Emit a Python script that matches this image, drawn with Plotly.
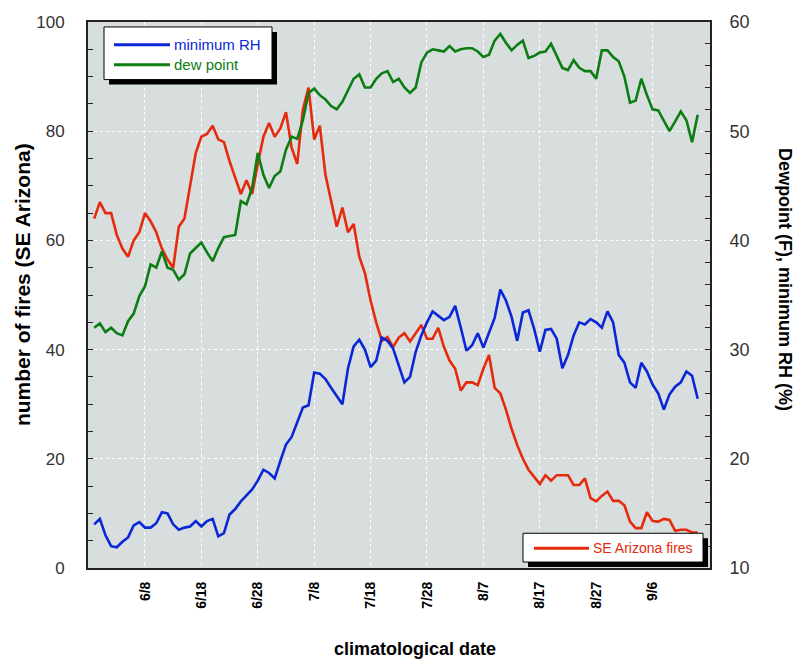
import pandas as pd
import plotly.graph_objects as go

# ---------------- data ----------------
start_date = "2001-05-30"
n_days = 108
dates = pd.date_range(start_date, periods=n_days, freq="D")

tick_labels = ["6/8", "6/18", "6/28", "7/8", "7/18", "7/28", "8/7", "8/17", "8/27", "9/6"]
tick_dates = ["2001-06-08", "2001-06-18", "2001-06-28", "2001-07-08", "2001-07-18",
              "2001-07-28", "2001-08-07", "2001-08-17", "2001-08-27", "2001-09-06"]

# number of fires (SE Arizona) - left axis
fires = [64, 67, 65, 65, 61, 58.5, 57, 60, 61.5,
         65, 63.5, 61.5, 58.5, 56.5, 55, 62.5, 64, 70, 76,
         79, 79.5, 81, 78.5, 78, 74.5, 71.5, 68.5, 71, 68.5,
         74, 79, 81.5, 79, 80.5, 83.5, 77, 74, 84, 88,
         78.5, 81, 72, 67, 62.5, 66, 61.5, 63, 57, 54,
         49, 45, 41.6, 42.3, 40.5, 42.2, 43, 41.5, 43, 44.5,
         42, 42, 44, 40.5, 38, 36.5, 32.5, 34, 34, 33.5,
         36.5, 39, 33, 32, 29, 25.5, 22.5, 20, 18, 16.7,
         15.4, 17, 16, 17, 17, 17, 15.2, 15.2, 16.4, 12.8,
         12.2, 13.2, 14, 12.3, 12.3, 11.5, 8.5, 7.3, 7.3, 10.2,
         8.6, 8.5, 9, 8.8, 6.8, 7, 7, 6.5, 6.5]

# dew point (F) - right axis
dew_point = [32.0, 32.4, 31.6, 32.0, 31.5, 31.3, 32.6, 33.3, 34.9,
             35.8, 37.8, 37.5, 39.0, 37.5, 37.3, 36.4, 36.9, 38.8, 39.3,
             39.8, 38.9, 38.1, 39.3, 40.3, 40.4, 40.5, 43.6, 43.3, 44.8,
             48.0, 46.0, 44.8, 45.9, 46.3, 48.3, 49.5, 49.3, 51.0, 53.5,
             53.9, 53.3, 52.9, 52.3, 52.0, 52.7, 53.8, 54.8, 55.2, 54.0,
             54.0, 54.8, 55.3, 55.5, 54.5, 54.8, 54.0, 53.5, 54.0, 56.3,
             57.2, 57.5, 57.4, 57.3, 57.8, 57.3, 57.5, 57.6, 57.6, 57.3,
             56.8, 57.0, 58.3, 58.9, 58.1, 57.4, 57.9, 58.3, 56.7, 56.9,
             57.2, 57.3, 58.0, 56.9, 55.8, 55.6, 56.5, 55.8, 55.5, 55.5,
             54.8, 57.4, 57.4, 56.8, 56.4, 55.0, 52.6, 52.8, 54.8, 53.3,
             52.0, 51.9, 51.0, 50.0, 50.9, 51.8, 51.0, 49.0, 51.5]

# minimum RH (%) - right axis
min_rh = [14.0, 14.5, 13.0, 12.0, 11.9, 12.4, 12.8, 13.9, 14.2,
          13.7, 13.7, 14.1, 15.1, 15.0, 14.0, 13.5, 13.7, 13.8, 14.3,
          13.8, 14.3, 14.5, 12.9, 13.2, 14.9, 15.4, 16.1, 16.7, 17.2,
          18.0, 19.0, 18.7, 18.2, 19.8, 21.3, 22.0, 23.3, 24.7, 24.9,
          27.9, 27.8, 27.3, 26.5, 25.8, 25.0, 28.3, 30.3, 30.9, 30.0,
          28.4, 29.0, 31.1, 30.8, 30.1, 28.5, 27.0, 27.5, 29.8, 31.3,
          32.5, 33.5, 33.1, 32.7, 33.0, 34.0, 32.0, 29.9, 30.4, 31.5,
          30.2, 31.5, 32.9, 35.5, 34.5, 33.0, 30.8, 33.4, 33.6, 31.9,
          29.8, 31.8, 31.9, 31.0, 28.3, 29.5, 31.3, 32.5, 32.3, 32.8,
          32.5, 32.0, 33.5, 32.5, 29.5, 28.8, 27.0, 26.5, 28.8, 28.0,
          26.8, 26.0, 24.5, 25.9, 26.6, 27.0, 28.0, 27.6, 25.5]

# ---------------- styling ----------------
BLUE = "#0a26d6"
GREEN = "#0c7d12"
RED = "#e62a0c"
FONT = "Liberation Sans, Arial, Helvetica, sans-serif"

W, H = 798, 661
L, R, T, B = 88, 88, 18, 93
PW, PH = W - L - R, H - T - B


def px(x):
    return (x - L) / PW


def py(y):
    return (H - B - y) / PH


fig = go.Figure()
fig.add_trace(go.Scatter(x=dates, y=fires, mode="lines", name="SE Arizona fires",
                         line=dict(color=RED, width=2.6), yaxis="y", showlegend=False))
fig.add_trace(go.Scatter(x=dates, y=min_rh, mode="lines", name="minimum RH",
                         line=dict(color=BLUE, width=2.6), yaxis="y2", showlegend=False))
fig.add_trace(go.Scatter(x=dates, y=dew_point, mode="lines", name="dew point",
                         line=dict(color=GREEN, width=2.6), yaxis="y2", showlegend=False))

shapes = []
annotations = []


def legend_box(x0, y0, x1, y1, off=5):
    shapes.append(dict(type="rect", xref="paper", yref="paper", layer="above",
                       x0=px(x0 + off), x1=px(x1 + off), y0=py(y0 + off), y1=py(y1 + off),
                       fillcolor="black", line=dict(width=0)))
    shapes.append(dict(type="rect", xref="paper", yref="paper", layer="above",
                       x0=px(x0), x1=px(x1), y0=py(y0), y1=py(y1),
                       fillcolor="white", line=dict(color="black", width=1)))


def legend_item(x0, x1, y, color, text, size):
    shapes.append(dict(type="line", xref="paper", yref="paper", layer="above",
                       x0=px(x0), x1=px(x1), y0=py(y), y1=py(y),
                       line=dict(color=color, width=3)))
    annotations.append(dict(xref="paper", yref="paper", x=px(x1 + 2), y=py(y),
                            xanchor="left", yanchor="middle", showarrow=False,
                            text=text, font=dict(family=FONT, size=size, color=color)))


legend_box(104, 23, 272, 76)
legend_item(114, 170, 41, BLUE, "minimum RH", 15)
legend_item(114, 170, 61, GREEN, "dew point", 15)

legend_box(523, 533, 703, 562)
legend_item(534, 589, 548, RED, "SE Arizona fires", 14)

annotations.append(dict(xref="paper", yref="paper", x=px(22), y=py(283),
                        xanchor="center", yanchor="middle", showarrow=False, textangle=-90,
                        text="<b>number of fires (SE Arizona)</b>",
                        font=dict(family=FONT, size=21, color="black")))
annotations.append(dict(xref="paper", yref="paper", x=px(785), y=py(277),
                        xanchor="center", yanchor="middle", showarrow=False, textangle=90,
                        text="<b>Dewpoint (F), minimum RH (%)</b>",
                        font=dict(family=FONT, size=18, color="black")))
annotations.append(dict(xref="paper", yref="paper", x=px(415), y=py(650),
                        xanchor="center", yanchor="middle", showarrow=False,
                        text="<b>climatological date</b>",
                        font=dict(family=FONT, size=18, color="black")))

fig.update_layout(
    width=W, height=H,
    margin=dict(l=L, r=R, t=T, b=B, pad=0),
    paper_bgcolor="white",
    plot_bgcolor="#d8dede",
    font=dict(family=FONT, color="#333333"),
    showlegend=False,
    shapes=shapes,
    annotations=annotations,
    xaxis=dict(
        type="date",
        range=["2001-05-28 21:36", "2001-09-16 04:20"],
        tickvals=tick_dates, ticktext=tick_labels,
        tickangle=-90, ticks="",
        tickfont=dict(family=FONT, size=14, color="black", weight="bold"),
        ticklabelstandoff=6,
        showgrid=True, gridcolor="white", griddash="dot", gridwidth=1,
        showline=True, linecolor="#222222", linewidth=2, mirror=True,
        zeroline=False,
    ),
    yaxis=dict(
        range=[0, 100], tickvals=[0, 20, 40, 60, 80, 100],
        ticks="inside", ticklen=5, tickcolor="#222222",
        minor=dict(dtick=5, ticks="inside", ticklen=5, tickcolor="#222222", showgrid=False),
        tickfont=dict(family=FONT, size=17, color="#333333"),
        ticklabelstandoff=18,
        showgrid=True, gridcolor="white", griddash="dot", gridwidth=1,
        showline=True, linecolor="#222222", linewidth=2,
        zeroline=False,
    ),
    yaxis2=dict(
        overlaying="y", side="right",
        range=[10, 60], tickvals=[10, 20, 30, 40, 50, 60],
        ticks="inside", ticklen=5, tickcolor="#222222",
        minor=dict(dtick=2, ticks="inside", ticklen=5, tickcolor="#222222", showgrid=False),
        tickfont=dict(family=FONT, size=18, color="#333333"),
        ticklabelstandoff=14,
        showgrid=False,
        showline=True, linecolor="#222222", linewidth=2,
        zeroline=False,
    ),
)

fig.write_html("out.html",
               config={"displayModeBar": False},
               post_script="document.body.style.margin='0';document.body.style.overflow='hidden';")
